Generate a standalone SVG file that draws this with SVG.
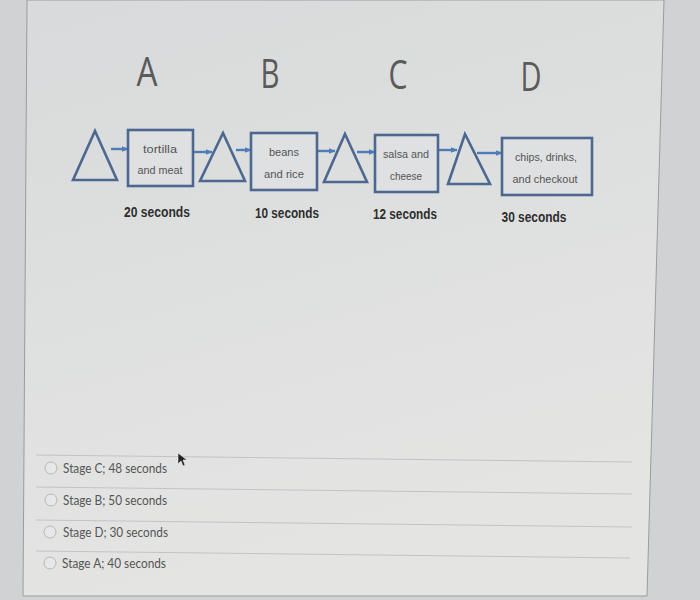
<svg xmlns="http://www.w3.org/2000/svg" width="700" height="600" viewBox="0 0 700 600">
<defs>
<linearGradient id="bg" x1="0" y1="0" x2="0.3" y2="1">
<stop offset="0" stop-color="#d8dadb"/>
<stop offset="1" stop-color="#e4e5e3"/>
</linearGradient>
<marker id="ah" viewBox="0 0 10 10" refX="9" refY="5" markerWidth="7" markerHeight="7" orient="auto" markerUnits="userSpaceOnUse">
<path d="M0,1 L10,5 L0,9 z" fill="#4f7cb8"/>
</marker>
<style>
.tri{fill:none;stroke:#4d6890;stroke-width:2.6;stroke-linejoin:miter}
.box{fill:#dfe0e1;stroke:#4d6890;stroke-width:2.6}
.lbl{font-family:"Liberation Sans",Arial,sans-serif;font-size:11.5px;fill:#555;text-anchor:middle}
.big{font-family:"Open Sans","Liberation Sans",sans-serif;font-size:40px;fill:#5a5a5a;text-anchor:middle}
.sec{font-family:"Liberation Sans",Arial,sans-serif;font-size:15px;font-weight:bold;fill:#2e2e2e;text-anchor:middle}
.opt{font-family:Lato,"Liberation Sans",sans-serif;font-size:13px;fill:#555}
.arr{stroke:#4f7cb8;stroke-width:2.4;fill:none;marker-end:url(#ah)}
.sep{stroke:#c2c4c4;stroke-width:1}
.rad{fill:#e6e7e6;stroke:#b5b7b7;stroke-width:1}
</style>
</defs>
<rect width="700" height="600" fill="#d0d2d3"/>
<polygon points="27,0 664,0 647,596 23,596" fill="url(#bg)" stroke="#9a9c9d" stroke-width="1"/>

<text class="big" x="147" y="86" textLength="21" lengthAdjust="spacingAndGlyphs">A</text>
<text class="big" x="270" y="88" textLength="19" lengthAdjust="spacingAndGlyphs">B</text>
<text class="big" x="398" y="89" textLength="19" lengthAdjust="spacingAndGlyphs">C</text>
<text class="big" x="531" y="91" textLength="21" lengthAdjust="spacingAndGlyphs">D</text>

<g id="connectors">
<line class="arr" x1="111" y1="149" x2="128" y2="149"/>
<line class="arr" x1="193" y1="152" x2="212" y2="152"/>
<line class="arr" x1="236" y1="150" x2="251" y2="150"/>
<line class="arr" x1="317" y1="151" x2="335" y2="151"/>
<line class="arr" x1="357" y1="152" x2="375" y2="152"/>
<line class="arr" x1="438" y1="150" x2="457" y2="150"/>
<line class="arr" x1="477" y1="153" x2="502" y2="153"/>
</g>

<g id="wait1"><polygon class="tri" points="95,131 117,180 73,180"/></g>
<g id="stageA">
<rect class="box" x="128" y="130" width="65" height="56"/>
<text class="lbl" x="160" y="153" textLength="34" lengthAdjust="spacingAndGlyphs">tortilla</text>
<text class="lbl" x="160" y="174" textLength="45" lengthAdjust="spacingAndGlyphs">and meat</text>
<text class="sec" x="157" y="217" textLength="66" lengthAdjust="spacingAndGlyphs">20 seconds</text>
</g>
<g id="wait2"><polygon class="tri" points="223,133 245,181 200,181"/></g>
<g id="stageB">
<rect class="box" x="251" y="133" width="66" height="57"/>
<text class="lbl" x="284" y="156" textLength="30" lengthAdjust="spacingAndGlyphs">beans</text>
<text class="lbl" x="284" y="178" textLength="40" lengthAdjust="spacingAndGlyphs">and rice</text>
<text class="sec" x="287" y="218" textLength="64" lengthAdjust="spacingAndGlyphs">10 seconds</text>
</g>
<g id="wait3"><polygon class="tri" points="345,134 367,182 324,182"/></g>
<g id="stageC">
<rect class="box" x="375" y="135" width="63" height="57"/>
<text class="lbl" x="406" y="158" textLength="46" lengthAdjust="spacingAndGlyphs">salsa and</text>
<text class="lbl" x="406" y="180" textLength="32" lengthAdjust="spacingAndGlyphs">cheese</text>
<text class="sec" x="405" y="219" textLength="64" lengthAdjust="spacingAndGlyphs">12 seconds</text>
</g>
<g id="wait4"><polygon class="tri" points="465,134 490,184 448,184"/></g>
<g id="stageD">
<rect class="box" x="502" y="138" width="90" height="57"/>
<text class="lbl" x="546" y="161" textLength="62" lengthAdjust="spacingAndGlyphs">chips, drinks,</text>
<text class="lbl" x="545" y="183" textLength="65" lengthAdjust="spacingAndGlyphs">and checkout</text>
<text class="sec" x="534" y="222" textLength="65" lengthAdjust="spacingAndGlyphs">30 seconds</text>
</g>

<line class="sep" x1="36" y1="455" x2="632" y2="462"/>
<line class="sep" x1="36" y1="487" x2="632" y2="494"/>
<line class="sep" x1="36" y1="520" x2="632" y2="527"/>
<line class="sep" x1="36" y1="551" x2="630" y2="558"/>

<g id="opt1"><circle class="rad" cx="51" cy="468" r="6"/><text class="opt" x="63" y="473" textLength="104" lengthAdjust="spacingAndGlyphs">Stage C; 48 seconds</text></g>
<g id="opt2"><circle class="rad" cx="51" cy="500" r="6"/><text class="opt" x="63" y="505" textLength="104" lengthAdjust="spacingAndGlyphs">Stage B; 50 seconds</text></g>
<g id="opt3"><circle class="rad" cx="50" cy="532" r="6"/><text class="opt" x="63" y="537" textLength="105" lengthAdjust="spacingAndGlyphs">Stage D; 30 seconds</text></g>
<g id="opt4"><circle class="rad" cx="50" cy="563" r="6"/><text class="opt" x="62" y="568" textLength="104" lengthAdjust="spacingAndGlyphs">Stage A; 40 seconds</text></g>

<polygon points="178,453 178,464 181,461 183,466 185,465 183,460 187,460" fill="#222" stroke="#eee" stroke-width="0.6"/>
</svg>
